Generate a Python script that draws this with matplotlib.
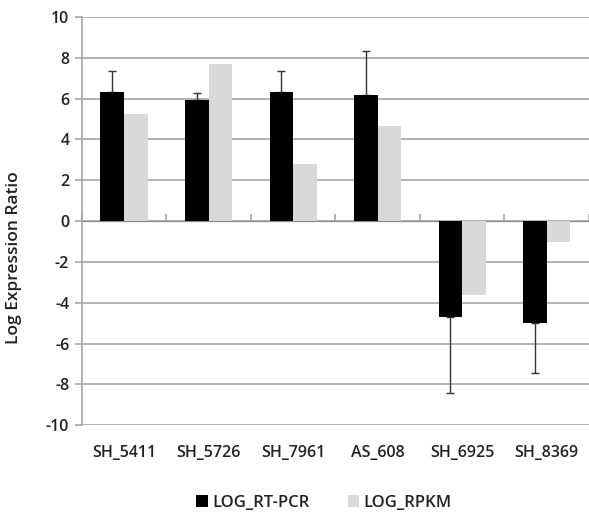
import numpy as np
import matplotlib
matplotlib.use("Agg")
from matplotlib import pyplot as plt

plt.rcParams['font.family'] = ['Open Sans', 'DejaVu Sans']
plt.rcParams['axes.unicode_minus'] = False

genes = ["SH_5411", "SH_5726", "SH_7961", "AS_608", "SH_6925", "SH_8369"]
log_rtpcr = [6.31, 5.95, 6.31, 6.18, -4.69, -4.98]
log_rtpcr_err = [1.04, 0.31, 1.04, 2.15, 3.72, 2.47]
log_rpkm = [5.26, 7.70, 2.78, 4.67, -3.63, -1.04]
y_ticks = [-10, -8, -6, -4, -2, 0, 2, 4, 6, 8, 10]

text_color = '#222222'
grid_color = '#a6a6a6'

fig = plt.figure(figsize=(5.89, 5.16), dpi=100)
ax = fig.add_axes([0.139, 0.176, 0.861, 0.791])

x = np.arange(len(genes))
w = 0.28
vals = np.array(log_rtpcr)
err = np.array(log_rtpcr_err)
# error bars only go away from zero
lower = np.where(vals < 0, err, 0)
upper = np.where(vals >= 0, err, 0)

ax.bar(x - w / 2, log_rtpcr, w, color='black', label='LOG_RT-PCR', zorder=3)
# drawn under the bars so the cap at the bar end stays hidden
ax.errorbar(x - w / 2, log_rtpcr, yerr=[lower, upper], fmt='none',
            ecolor='#333333', elinewidth=1.0, capsize=3, capthick=1.0, zorder=2.5)
ax.bar(x + w / 2, log_rpkm, w, color='#d9d9d9', label='LOG_RPKM', zorder=3)

ax.set_xlim(-0.5, len(genes) - 0.5)
ax.set_ylim(-10, 10)
ax.set_yticks(y_ticks)
ax.yaxis.grid(True, color=grid_color, linewidth=1.2, zorder=0)
ax.set_axisbelow(True)

for s in ['top', 'right', 'bottom']:
    ax.spines[s].set_visible(False)
ax.spines['left'].set_color(grid_color)
ax.spines['left'].set_linewidth(1.2)

ax.set_xticks(x)
ax.set_xticklabels(genes)
ax.tick_params(axis='x', length=0, pad=14, labelsize=11.5, labelcolor=text_color)
ax.tick_params(axis='y', length=5, color=grid_color, width=1.2, pad=4,
               labelsize=11.5, labelcolor=text_color)
for lab in ax.get_xticklabels() + ax.get_yticklabels():
    lab.set_fontweight('semibold')

# category axis drawn at zero with boundary tick marks
sec = ax.secondary_xaxis(0.5)
sec.set_xticks(np.arange(len(genes) + 1) - 0.5)
sec.set_xticklabels([])
sec.tick_params(length=5, color=grid_color, width=1.2, direction='out')
sec.spines['bottom'].set_color(grid_color)
sec.spines['bottom'].set_linewidth(1.2)

ax.set_ylabel('Log Expression Ratio', fontsize=12.5, fontweight='semibold',
              color=text_color)
ax.yaxis.set_label_coords(-0.118, 0.41)

fig.legend(loc='center', bbox_to_anchor=(0.55, 0.025), ncol=2, frameon=False,
           handlelength=0.7, handleheight=0.7, handletextpad=0.25,
           columnspacing=2.3, prop={'size': 12, 'weight': 'semibold'},
           labelcolor=text_color)

fig.savefig('out.png', dpi=100)
